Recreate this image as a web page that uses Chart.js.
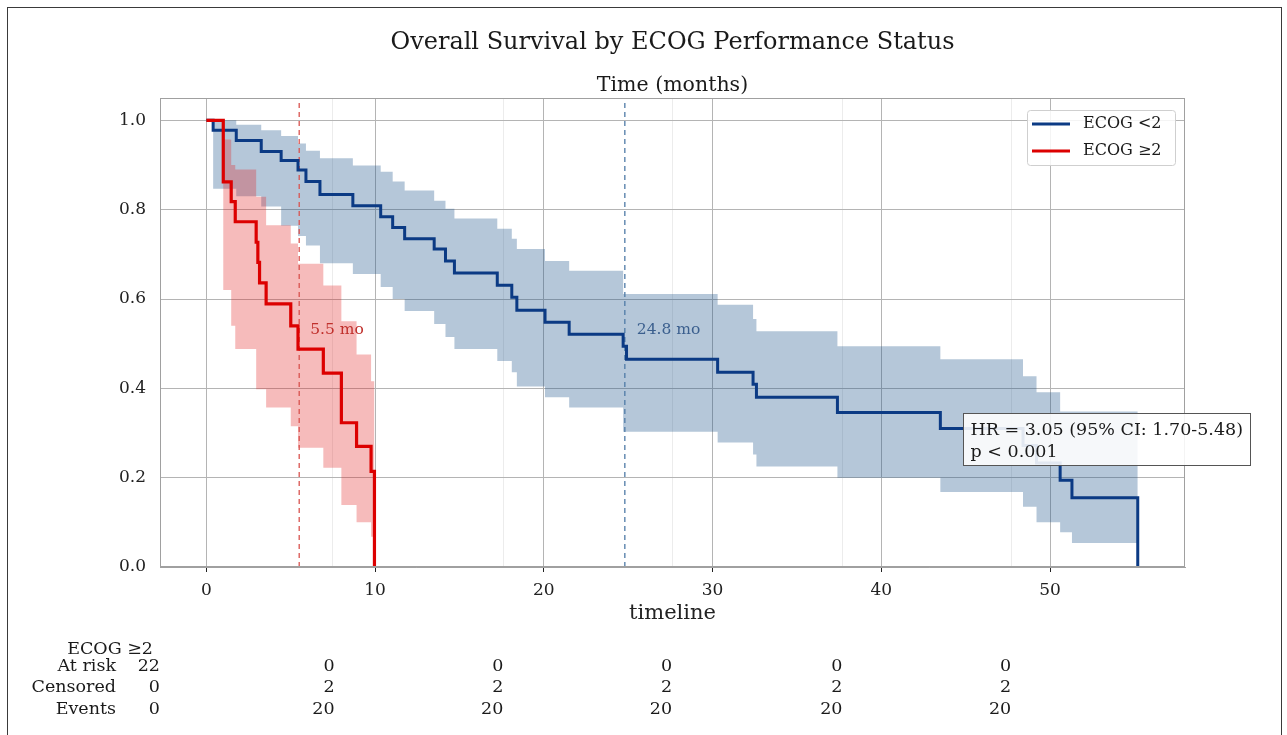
<!DOCTYPE html>
<html>
<head>
<meta charset="utf-8">
<title>Overall Survival by ECOG Performance Status</title>
<script src="https://cdn.jsdelivr.net/npm/chart.js@4.4.1/dist/chart.umd.min.js"></script>
<style>
    body { margin: 0; background: #fff; }
    #wrap { position: relative; width: 1287px; height: 735px; }
</style>
</head>
<body>
<div id="wrap"><canvas id="km" width="1287" height="735"></canvas></div>
<script>
// Kaplan-Meier steps (time in months, survival probability)
var blue_t = [0, 0.4, 1.77, 3.25, 4.43, 5.43, 5.9, 6.73, 8.68, 10.33, 11.04, 11.75, 13.5, 14.17, 14.7, 17.24, 18.1, 18.4, 20.07, 21.5, 24.7, 24.9, 30.3, 32.4, 32.6, 37.4, 43.5, 48.4, 49.2, 50.6, 51.3, 55.2];
var blue_s = [1, 0.978, 0.955, 0.930, 0.910, 0.889, 0.863, 0.834, 0.809, 0.784, 0.760, 0.735, 0.712, 0.685, 0.658, 0.631, 0.604, 0.575, 0.548, 0.521, 0.494, 0.465, 0.436, 0.409, 0.380, 0.346, 0.310, 0.272, 0.233, 0.194, 0.155, 0];
var blue_hi = [1, 1, 0.99, 0.978, 0.965, 0.948, 0.932, 0.915, 0.899, 0.885, 0.863, 0.843, 0.82, 0.802, 0.78, 0.757, 0.735, 0.712, 0.685, 0.663, 0.611, 0.611, 0.587, 0.555, 0.528, 0.494, 0.465, 0.427, 0.391, 0.348, 0.348, 0.348];
var blue_lo = [1, 0.847, 0.83, 0.807, 0.764, 0.741, 0.72, 0.68, 0.656, 0.627, 0.60, 0.573, 0.544, 0.515, 0.488, 0.461, 0.436, 0.404, 0.38, 0.357, 0.303, 0.303, 0.279, 0.252, 0.225, 0.2, 0.168, 0.135, 0.1, 0.078, 0.054, 0.054];

var red_t = [0, 1.0, 1.47, 1.71, 2.95, 3.05, 3.15, 3.54, 5.0, 5.43, 6.93, 8.0, 8.9, 9.76, 9.96];
var red_s = [1, 0.862, 0.818, 0.773, 0.727, 0.682, 0.636, 0.589, 0.54, 0.488, 0.434, 0.323, 0.270, 0.214, 0];
var red_hi = [1, 0.957, 0.90, 0.89, 0.829, 0.829, 0.829, 0.765, 0.724, 0.679, 0.63, 0.55, 0.476, 0.416, 0.416];
var red_lo = [1, 0.62, 0.54, 0.488, 0.398, 0.398, 0.398, 0.357, 0.315, 0.267, 0.222, 0.139, 0.1, 0.068, 0.068];

var medians = [5.5, 24.8];
var median_labels = ["5.5 mo", "24.8 mo"];

var x_ticks = [0, 10, 20, 30, 40, 50];
var x_minor = [7.5, 17.6, 27.6, 37.7, 47.7];
var y_ticks = [0, 0.2, 0.4, 0.6, 0.8, 1.0];

var risk_cols = [-2.75, 7.6, 17.6, 27.6, 37.7, 47.7];
var risk_at = [22, 0, 0, 0, 0, 0];
var risk_censored = [0, 2, 2, 2, 2, 2];
var risk_events = [0, 20, 20, 20, 20, 20];

var series_names = ["ECOG <2", "ECOG \u22652"];
var hr_text = ["HR = 3.05 (95% CI: 1.70-5.48)", "p < 0.001"];

var BLUE = "#0b3a84";
var RED = "#dc0000";
var SERIF = "'DejaVu Serif'";

function points(ts, vs) {
    return ts.map(function (t, i) {
        return {x: t, y: vs[i]};
    });
}

function vline(t) {
    return [{x: t, y: 0}, {x: t, y: 1.05}];
}

function isMinor(v) {
    return x_minor.indexOf(v) >= 0;
}

var extrasPlugin = {
    id: "extras",
    afterDraw: function (chart) {
        var ctx = chart.ctx;
        var area = chart.chartArea;
        var xs = chart.scales.x;
        var ys = chart.scales.y;
        var cx = (area.left + area.right) / 2;
        ctx.save();

        // figure border
        ctx.strokeStyle = "#3a3a3a";
        ctx.lineWidth = 1;
        ctx.strokeRect(7.5, 7.5, 1274, 760);

        // axes frame
        ctx.strokeStyle = "#a0a0a0";
        ctx.strokeRect(Math.round(area.left) + 0.5, Math.round(area.top) + 0.5,
            Math.round(area.right - area.left) - 1, Math.round(area.bottom - area.top) - 1);

        // titles
        ctx.fillStyle = "#1a1a1a";
        ctx.textAlign = "center";
        ctx.textBaseline = "middle";
        ctx.font = "24px " + SERIF;
        ctx.fillText("Overall Survival by ECOG Performance Status", cx, 43);
        ctx.font = "20.5px " + SERIF;
        ctx.fillText("Time (months)", cx, 86);

        // median labels
        ctx.textAlign = "left";
        ctx.font = "15.5px " + SERIF;
        ctx.fillStyle = "#c0302c";
        ctx.fillText(median_labels[0], xs.getPixelForValue(medians[0]) + 11, ys.getPixelForValue(0.53));
        ctx.fillStyle = "#3b5f8e";
        ctx.fillText(median_labels[1], xs.getPixelForValue(medians[1]) + 12, ys.getPixelForValue(0.53));

        // legend
        var lx = area.right - 158;
        var ly = area.top + 12;
        ctx.fillStyle = "rgba(255,255,255,0.85)";
        ctx.strokeStyle = "#cfcfcf";
        ctx.beginPath();
        ctx.roundRect(lx + 0.5, ly + 0.5, 148, 55, 3);
        ctx.fill();
        ctx.stroke();
        ctx.lineWidth = 3;
        [BLUE, RED].forEach(function (c, i) {
            var yy = ly + 14 + i * 27;
            ctx.strokeStyle = c;
            ctx.beginPath();
            ctx.moveTo(lx + 5, yy);
            ctx.lineTo(lx + 43, yy);
            ctx.stroke();
            ctx.fillStyle = "#1a1a1a";
            ctx.font = "16px " + SERIF;
            ctx.fillText(series_names[i], lx + 56, yy);
        });

        // hazard ratio box
        var bx = Math.round(area.left + 0.7834 * (area.right - area.left)) + 0.5;
        var by = Math.round(area.top + 0.6716 * (area.bottom - area.top)) + 0.5;
        ctx.lineWidth = 1;
        ctx.fillStyle = "rgba(255,255,255,0.88)";
        ctx.strokeStyle = "#555";
        ctx.fillRect(bx, by, 287, 52);
        ctx.strokeRect(bx, by, 287, 52);
        ctx.fillStyle = "#1a1a1a";
        ctx.font = "17.5px " + SERIF;
        ctx.fillText(hr_text[0], bx + 7, by + 17);
        ctx.fillText(hr_text[1], bx + 7, by + 39);

        // number at risk table
        ctx.font = "17.5px " + SERIF;
        ctx.textAlign = "right";
        ctx.fillStyle = "#1a1a1a";
        ctx.fillText(series_names[1], area.left - 7, 649);
        var rows = [["At risk", risk_at], ["Censored", risk_censored], ["Events", risk_events]];
        rows.forEach(function (row, r) {
            var yy = 666 + r * 21.5;
            ctx.fillText(row[0], area.left - 44, yy);
            row[1].forEach(function (v, i) {
                ctx.fillText(String(v), xs.getPixelForValue(risk_cols[i]), yy);
            });
        });
        ctx.restore();
    }
};

var lineDefaults = {pointRadius: 0, tension: 0, fill: false};

function ds(extra) {
    return Object.assign({}, lineDefaults, extra);
}

new Chart(document.getElementById("km"), {
    type: "line",
    data: {
        datasets: [
            ds({label: series_names[1], data: points(red_t, red_s), borderColor: RED, borderWidth: 3.2, stepped: "before", order: 0}),
            ds({label: "red hi", data: points(red_t, red_hi), borderWidth: 0, borderColor: "rgba(0,0,0,0)", stepped: "before", order: 3}),
            ds({label: "red lo", data: points(red_t, red_lo), borderWidth: 0, borderColor: "rgba(0,0,0,0)", stepped: "before", order: 3, fill: 1, backgroundColor: "rgba(225,30,30,0.30)"}),
            ds({label: series_names[0], data: points(blue_t, blue_s), borderColor: BLUE, borderWidth: 3, stepped: "before", order: 1}),
            ds({label: "blue hi", data: points(blue_t, blue_hi), borderWidth: 0, borderColor: "rgba(0,0,0,0)", stepped: "before", order: 4}),
            ds({label: "blue lo", data: points(blue_t, blue_lo), borderWidth: 0, borderColor: "rgba(0,0,0,0)", stepped: "before", order: 4, fill: 4, backgroundColor: "rgba(31,84,140,0.33)"}),
            ds({label: "median red", data: vline(medians[0]), borderColor: "#d9534f", borderWidth: 1.3, borderDash: [5, 4], order: 2}),
            ds({label: "median blue", data: vline(medians[1]), borderColor: "#4f7aa6", borderWidth: 1.3, borderDash: [5, 4], order: 2})
        ]
    },
    options: {
        responsive: false,
        animation: false,
        devicePixelRatio: 1,
        layout: {padding: {top: 98, left: 100, right: 102, bottom: 108}},
        plugins: {
            legend: {display: false},
            title: {display: false},
            tooltip: {enabled: false}
        },
        scales: {
            x: {
                type: "linear",
                min: -2.75,
                max: 58,
                afterBuildTicks: function (scale) {
                    scale.ticks = x_ticks.concat(x_minor).sort(function (a, b) {
                        return a - b;
                    }).map(function (v) {
                        return {value: v};
                    });
                },
                afterFit: function (scale) {
                    scale.height = 60;
                },
                grid: {
                    color: function (c) {
                        return c.tick && isMinor(c.tick.value) ? "#ececec" : "#b4b4b4";
                    },
                    tickColor: function (c) {
                        return c.tick && isMinor(c.tick.value) ? "rgba(0,0,0,0)" : "#222";
                    },
                    tickLength: 5
                },
                border: {display: true, color: "#a0a0a0"},
                ticks: {
                    autoSkip: false,
                    maxRotation: 0,
                    padding: 8,
                    color: "#222",
                    font: {family: SERIF, size: 17},
                    callback: function (v) {
                        return isMinor(v) ? "" : String(v);
                    }
                },
                title: {
                    display: true,
                    text: "timeline",
                    color: "#222",
                    font: {family: SERIF, size: 21},
                    padding: {top: 0, bottom: 1}
                }
            },
            y: {
                type: "linear",
                min: 0,
                max: 1.05,
                afterBuildTicks: function (scale) {
                    scale.ticks = y_ticks.map(function (v) {
                        return {value: v};
                    });
                },
                afterFit: function (scale) {
                    scale.width = 60;
                },
                grid: {color: "#b4b4b4", drawTicks: false},
                border: {display: true, color: "#a0a0a0"},
                ticks: {
                    padding: 14,
                    color: "#222",
                    font: {family: SERIF, size: 17},
                    callback: function (v) {
                        return v.toFixed(1);
                    }
                }
            }
        }
    },
    plugins: [extrasPlugin]
});
</script>
</body>
</html>
